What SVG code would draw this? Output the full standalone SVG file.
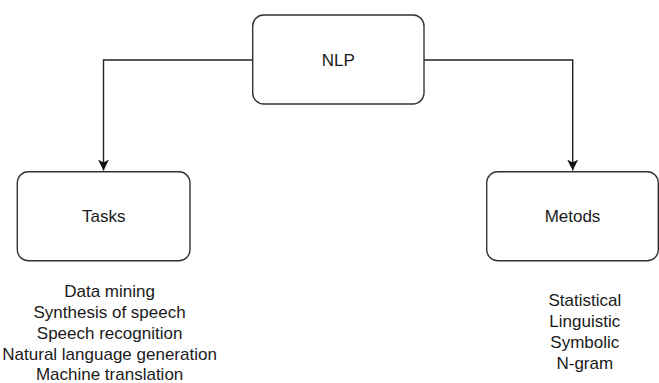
<svg xmlns="http://www.w3.org/2000/svg" width="659" height="383" viewBox="0 0 659 383">
<style>
.box{fill:#fff;stroke:#333;stroke-width:1.4}
.lbl{font-family:"Liberation Sans",Arial,sans-serif;font-size:17px;fill:#1a1a1a;text-anchor:middle}
.edge{fill:none;stroke:#222;stroke-width:1.4}
</style>
<defs>
<marker id="arr" markerWidth="11" markerHeight="12" refX="11" refY="6" orient="auto" markerUnits="userSpaceOnUse">
<path d="M0,0.5 L11,6 L0,11.5 L3,6 Z" fill="#111"/>
</marker>
</defs>
<rect width="659" height="383" fill="#fff"/>
<g id="connectors">
<path class="edge" d="M252.7,60 H103.5 V170.5" marker-end="url(#arr)"/>
<path class="edge" d="M424,60 H572.7 V170.5" marker-end="url(#arr)"/>
</g>
<g id="nlp">
<rect class="box" x="252.7" y="15" width="171.3" height="89" rx="11"/>
<text class="lbl" x="338.3" y="66">NLP</text>
</g>
<g id="tasks">
<rect class="box" x="17.3" y="171.7" width="172.7" height="89" rx="11"/>
<text class="lbl" x="103.7" y="222">Tasks</text>
</g>
<g id="metods">
<rect class="box" x="486.7" y="171.7" width="171.6" height="89" rx="11"/>
<text class="lbl" x="572.5" y="222">Metods</text>
</g>
<g id="tasks-list">
<text class="lbl" x="109.6" y="296.5">Data mining</text>
<text class="lbl" x="109.6" y="317.5">Synthesis of speech</text>
<text class="lbl" x="109.6" y="338.5">Speech recognition</text>
<text class="lbl" x="109.6" y="359.5">Natural language generation</text>
<text class="lbl" x="109.6" y="380">Machine translation</text>
</g>
<g id="metods-list">
<text class="lbl" x="584.8" y="306">Statistical</text>
<text class="lbl" x="584.8" y="327">Linguistic</text>
<text class="lbl" x="584.8" y="348">Symbolic</text>
<text class="lbl" x="584.8" y="369">N-gram</text>
</g>
</svg>
